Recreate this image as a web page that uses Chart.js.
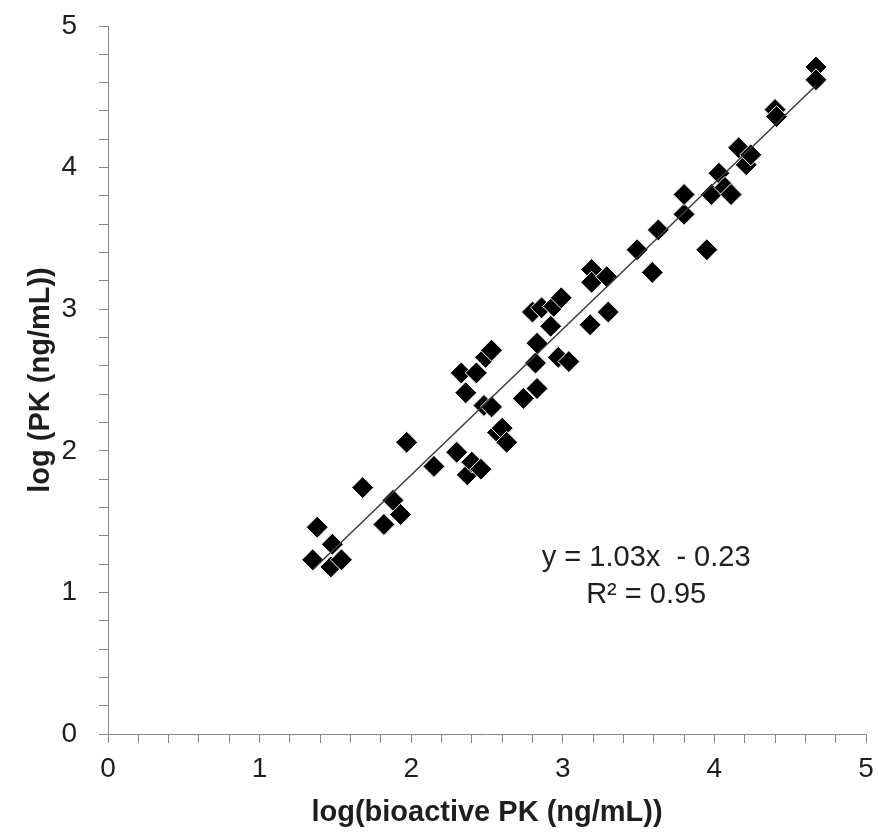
<!DOCTYPE html>
<html>
<head>
<meta charset="utf-8">
<script src="https://cdn.jsdelivr.net/npm/chart.js@4.4.1/dist/chart.umd.min.js"></script>
<style>
  html, body { margin: 0; padding: 0; background: #fff; }
</style>
</head>
<body>
<canvas id="myChart" width="878" height="835"></canvas>
<script>
// log(bioactive PK) on x, log(PK) on y
var bioactivePK = [1.35, 1.38, 1.47, 1.48, 1.54, 1.68, 1.82, 1.88, 1.93, 1.97,
  2.15, 2.30, 2.33, 2.43, 2.36, 2.37, 2.40, 2.46, 2.48, 2.53,
  2.49, 2.53, 2.57, 2.60, 2.63, 2.74, 2.83, 2.82, 2.83, 2.80,
  2.86, 2.92, 2.94, 2.99, 2.97, 3.04, 3.18, 3.19, 3.19, 3.29,
  3.30, 3.49, 3.59, 3.63, 3.80, 3.80, 3.95, 3.98, 4.03, 4.07,
  4.11, 4.16, 4.21, 4.24, 4.40, 4.41, 4.67, 4.67];
var totalPK = [1.23, 1.46, 1.18, 1.34, 1.23, 1.74, 1.48, 1.65, 1.55, 2.06,
  1.89, 1.99, 2.55, 2.55, 2.41, 1.83, 1.92, 1.87, 2.32, 2.31,
  2.66, 2.71, 2.13, 2.16, 2.06, 2.37, 2.44, 2.62, 2.76, 2.98,
  3.01, 2.88, 3.02, 3.08, 2.66, 2.63, 2.89, 3.28, 3.19, 3.23,
  2.98, 3.42, 3.26, 3.56, 3.67, 3.81, 3.42, 3.81, 3.96, 3.86,
  3.81, 4.14, 4.02, 4.09, 4.41, 4.36, 4.71, 4.62];
var axisLabels = [0, 1, 2, 3, 4, 5];
var slope = 1.03;
var intercept = -0.23;
var rSquared = 0.95;

var points = bioactivePK.map(function (x, i) { return { x: x, y: totalPK[i] }; });
var xMin = Math.min.apply(null, bioactivePK);
var xMax = Math.max.apply(null, bioactivePK);
var trend = [
  { x: xMin, y: slope * xMin + intercept },
  { x: xMax, y: slope * xMax + intercept }
];

function majorOnly(v) {
  var r = Math.round(v * 10) / 10;
  return axisLabels.indexOf(r) >= 0 ? String(r) : '';
}

var axisGray = '#868686';
var textCol = '#1e1e1e';

var equationLabel = {
  id: 'equationLabel',
  afterDatasetsDraw: function (chart) {
    var ctx = chart.ctx;
    var cx = chart.scales.x.getPixelForValue(3.55);
    var cy = chart.scales.y.getPixelForValue(1.24);
    ctx.save();
    ctx.font = '29px "Liberation Sans", Arial, sans-serif';
    ctx.fillStyle = textCol;
    ctx.textAlign = 'center';
    ctx.textBaseline = 'middle';
    var sign = intercept < 0 ? ' - ' : ' + ';
    ctx.fillText('y = ' + slope.toFixed(2) + 'x ' + sign + Math.abs(intercept).toFixed(2), cx, cy);
    ctx.fillText('R² = ' + rSquared.toFixed(2), cx, cy + 37);
    ctx.restore();
  }
};

var ctx = document.getElementById('myChart').getContext('2d');
var myChart = new Chart(ctx, {
  type: 'scatter',
  data: {
    datasets: [{
      type: 'line',
      label: 'trend',
      data: trend,
      borderColor: '#3a3a3a',
      borderWidth: 1.5,
      pointRadius: 0,
      fill: false,
      order: 0
    }, {
      label: 'samples',
      data: points,
      pointStyle: 'rectRot',
      pointRadius: 11,
      backgroundColor: '#000',
      borderColor: '#fff',
      borderWidth: 1,
      order: 1
    }]
  },
  options: {
    responsive: false,
    animation: false,
    layout: { padding: { left: 0, right: 10, top: 26, bottom: 0 } },
    plugins: {
      legend: { display: false },
      tooltip: { enabled: false }
    },
    scales: {
      x: {
        type: 'linear',
        min: 0,
        max: 5,
        afterFit: function (scale) {
          scale.height = 101;
          scale.paddingLeft = 0;
          scale.paddingRight = 0;
        },
        ticks: {
          stepSize: 0.2,
          autoSkip: false,
          maxRotation: 0,
          padding: 9,
          color: textCol,
          font: { family: '"Liberation Sans", Arial, sans-serif', size: 28 },
          callback: majorOnly
        },
        grid: { drawOnChartArea: false, tickLength: 9, color: axisGray },
        border: { color: axisGray },
        title: {
          display: true,
          text: 'log(bioactive PK (ng/mL))',
          color: textCol,
          padding: { top: 0, bottom: 5 },
          font: { family: '"Liberation Sans", Arial, sans-serif', size: 29, weight: 'bold' }
        }
      },
      y: {
        type: 'linear',
        min: 0,
        max: 5,
        afterFit: function (scale) {
          scale.width = 108;
          scale.paddingTop = 0;
          scale.paddingBottom = 0;
        },
        ticks: {
          stepSize: 0.2,
          autoSkip: false,
          padding: 22,
          color: textCol,
          font: { family: '"Liberation Sans", Arial, sans-serif', size: 28 },
          callback: majorOnly
        },
        grid: { drawOnChartArea: false, tickLength: 9, color: axisGray },
        border: { color: axisGray },
        title: {
          display: true,
          text: 'log (PK (ng/mL))',
          color: textCol,
          padding: { top: 24, bottom: 0 },
          font: { family: '"Liberation Sans", Arial, sans-serif', size: 29, weight: 'bold' }
        }
      }
    }
  },
  plugins: [equationLabel]
});
</script>
</body>
</html>
